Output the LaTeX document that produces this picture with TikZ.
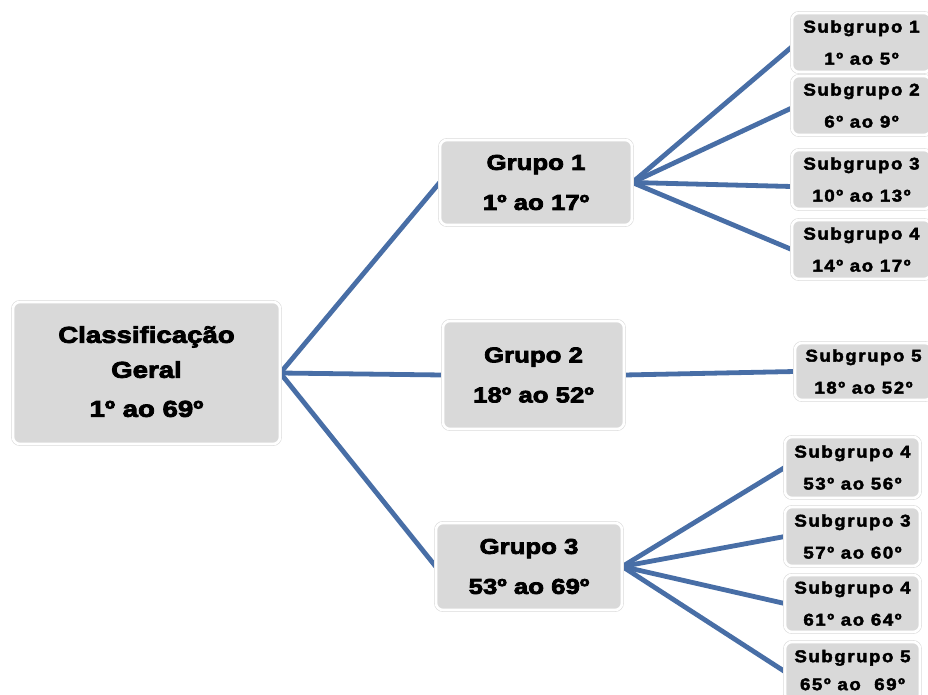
\documentclass[tikz,border=0pt]{standalone}
\usepackage{fontspec}
\newfontfamily\bigfont{Liberation Sans}[FakeStretch=1.2,BoldFeatures={FakeBold=3.5}]
\newfontfamily\subfont{Liberation Sans}[FakeStretch=1.1,LetterSpace=9,BoldFeatures={FakeBold=2.5}]
\usetikzlibrary{backgrounds,calc}
\definecolor{boxgray}{RGB}{217,217,217}
\definecolor{linkblue}{RGB}{72,110,166}
\tikzset{
  box/.style={rectangle, rounded corners=7pt, fill=boxgray, draw=black!14,
    double=white, double distance=2.6pt, line width=0.6pt, inner sep=0pt,
    align=center, text=black},
  bigbox/.style={box, font=\bigfont\bfseries\fontsize{23}{35}\selectfont},
  grpbox/.style={box, font=\bigfont\bfseries\fontsize{21.5}{40}\selectfont},
  subbox/.style={box, font=\subfont\bfseries\fontsize{17}{32}\selectfont},
  link/.style={draw=linkblue, line width=4.8pt}
}
\begin{document}
\begin{tikzpicture}[x=1pt,y=-1pt]
\useasboundingbox (0,0) rectangle (928,695);
% root
\node[bigbox, minimum width=267pt, minimum height=142pt] (cg) at (146.5,373)
  {Classificação\\Geral\\[4pt]1º ao 69º\rule[-3pt]{0pt}{1pt}};
% groups
\node[grpbox, minimum width=192pt, minimum height=85pt] (g1) at (536,182.5) {Grupo 1\\1º ao 17º};
\node[grpbox, minimum width=181pt, minimum height=108pt] (g2) at (533.5,375) {Grupo 2\\18º ao 52º};
\node[grpbox, minimum width=186pt, minimum height=87pt] (g3) at (529,566.5) {Grupo 3\\53º ao 69º};
% subgroups of group 1
\node[subbox, minimum width=139pt, minimum height=59pt] (s1) at (861.5,42.5) {Subgrupo 1\\1º ao 5º};
\node[subbox, minimum width=139pt, minimum height=59pt] (s2) at (861.5,105.5) {Subgrupo 2\\6º ao 9º};
\node[subbox, minimum width=139pt, minimum height=59pt] (s3) at (861.5,179.5) {Subgrupo 3\\10º ao 13º};
\node[subbox, minimum width=139pt, minimum height=59pt] (s4) at (861.5,249.5) {Subgrupo 4\\14º ao 17º};
% subgroup of group 2
\node[subbox, minimum width=137pt, minimum height=57pt] (s5) at (863.5,371.5) {Subgrupo 5\\18º ao 52º};
% subgroups of group 3
\node[subbox, minimum width=135pt, minimum height=61pt] (t1) at (852.5,467.5) {Subgrupo 4\\53º ao 56º};
\node[subbox, minimum width=135pt, minimum height=59pt] (t2) at (852.5,536.5) {Subgrupo 3\\57º ao 60º};
\node[subbox, minimum width=135pt, minimum height=57pt] (t3) at (852.5,603.5) {Subgrupo 4\\61º ao 64º};
\node[subbox, minimum width=135pt, minimum height=59pt] (t4) at (852.5,671.5) {Subgrupo 5\\[-4pt]65º ao~ 69º\rule[-3pt]{0pt}{1pt}};
% connectors
\begin{scope}[on background layer]
  \draw[link] (cg.east) -- (g1.west);
  \draw[link] (cg.east) -- (g2.west);
  \draw[link] (cg.east) -- (g3.west);
  \draw[link] (g1.east) -- ($(s1.west)+(0,4.5)$);
  \draw[link] (g1.east) -- ($(s2.west)+(0,2.5)$);
  \draw[link] (g1.east) -- ($(s3.west)+(0,7)$);
  \draw[link] (g1.east) -- (s4.west);
  \draw[link] (g2.east) -- (s5.west);
  \draw[link] (g3.east) -- (t1.west);
  \draw[link] (g3.east) -- (t2.west);
  \draw[link] (g3.east) -- (t3.west);
  \draw[link] (g3.east) -- (t4.west);
\end{scope}
\end{tikzpicture}
\end{document}
